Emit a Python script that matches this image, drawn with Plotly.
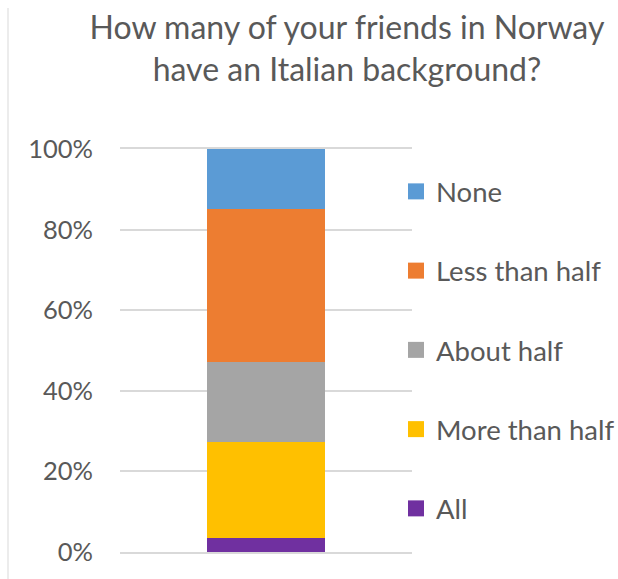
import plotly.graph_objects as go

# Survey answers (share of respondents, %)
categories = ["Q"]
answers = ["All", "More than half", "About half", "Less than half", "None"]
shares = [3.4, 23.9, 19.9, 37.8, 15.0]
colors = ["#7030a0", "#ffc000", "#a5a5a5", "#ed7d31", "#5b9bd5"]
tick_vals = [0, 20, 40, 60, 80, 100]
tick_text = ["0%", "20%", "40%", "60%", "80%", "100%"]

FONT = "Lato"
GREY_TEXT = "#595959"
GRID = "#d9d9d9"

W, H = 618, 579
ML, MR, MT, MB = 120, 206, 149, 27

fig = go.Figure()

for name, val, col in zip(answers, shares, colors):
    fig.add_trace(go.Bar(
        x=categories, y=[val], name=name,
        marker=dict(color=col, line=dict(width=0)),
        width=0.404, showlegend=False, hoverinfo="name+y",
    ))

# legend entries with larger square swatches, top entry = top segment
for i, (name, col) in enumerate(zip(answers[::-1], colors[::-1])):
    fig.add_trace(go.Scatter(
        x=[None], y=[None], mode="markers", name=name,
        marker=dict(symbol="square", size=16, color=col),
        legendgroup=f"g{i}", showlegend=True,
    ))

pw = W - ML - MR
ph = H - MT - MB

fig.update_layout(
    width=W, height=H,
    margin=dict(l=ML, r=MR, t=MT, b=MB, autoexpand=False),
    paper_bgcolor="white", plot_bgcolor="white",
    barmode="stack",
    font=dict(family=FONT, color=GREY_TEXT),
    title=dict(
        text="How many of your friends in Norway<br>have an Italian background?",
        font=dict(size=32, color=GREY_TEXT, family=FONT),
        x=347 / W, xanchor="center", xref="container",
        y=1 - 39 / H, yanchor="middle", yref="container",
    ),
    xaxis=dict(
        range=[-0.5, 0.5], showticklabels=False, showgrid=False,
        zeroline=False, fixedrange=True,
        showline=True, mirror=True, linecolor=GRID, linewidth=1.5,
    ),
    yaxis=dict(
        range=[0, 100], tickvals=tick_vals, ticktext=tick_text,
        showgrid=True, gridcolor=GRID, gridwidth=1.5,
        zeroline=False, showline=False,
        tickfont=dict(size=25.5, color=GREY_TEXT, family=FONT),
        ticklabelstandoff=26,
    ),
    legend=dict(
        xref="container", yref="container",
        x=396 / W, xanchor="left",
        y=1 - 167 / H, yanchor="top",
        traceorder="grouped", tracegroupgap=40.5,
        maxheight=500,
        font=dict(size=27.5, color=GREY_TEXT, family=FONT),
        bgcolor="rgba(0,0,0,0)", borderwidth=0,
    ),
    shapes=[dict(
        type="line", xref="paper", yref="paper",
        x0=(8 - ML) / pw, x1=(8 - ML) / pw,
        y0=(H - MB - 8) / ph, y1=(H - MB - H) / ph,
        line=dict(color="#d9d9d9", width=1),
    )],
)

fig.write_html("out.html")
